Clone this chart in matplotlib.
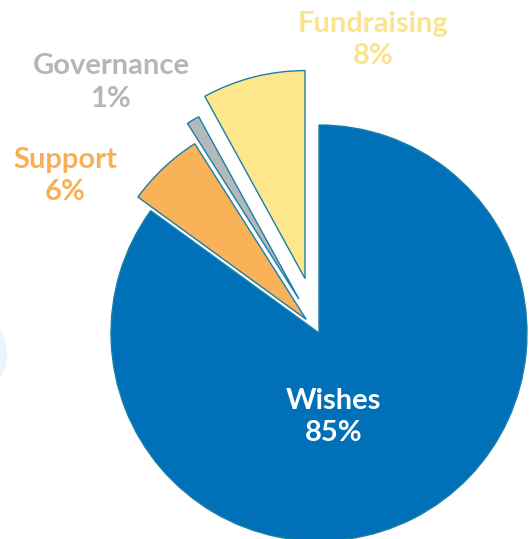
import matplotlib.pyplot as plt
from matplotlib.patches import Circle

categories = ['Wishes', 'Support', 'Governance', 'Fundraising']
shares = [85, 6, 1, 8]
explode = [0.0, 0.09, 0.19, 0.27]
colors = ['#0070b8', '#f9b257', '#b3b8b8', '#fde68c']
text_colors = ['#ffffff', '#f9b055', '#b5b7b7', '#fbe48e']
# label anchor points in data units (pie radius = 1)
label_xy = [(0.07, -0.405), (-1.22, 0.755), (-1.0, 1.205), (0.26, 1.41)]

plt.rcParams['font.family'] = ['Lato', 'DejaVu Sans']

fig = plt.figure(figsize=(5.31, 5.39), dpi=100)
ax = fig.add_axes([0, 0, 1, 1])

ax.pie(shares, explode=explode, colors=colors, startangle=90,
       counterclock=False, radius=1.0,
       wedgeprops=dict(edgecolor='#1a7fa8', linewidth=1.0))

# faint decorative disc at left edge
ax.add_patch(Circle((-1.73, -0.10), 0.23, facecolor='#eaf4fb',
                    edgecolor='none', zorder=0))

for name, val, (x, y), c in zip(categories, shares, label_xy, text_colors):
    ax.text(x, y, f'{name}\n{val}%', color=c, ha='center', va='center',
            fontsize=21, fontweight='bold', linespacing=1.3)

ax.set_xlim(-319 / 208, (531 - 319) / 208)
ax.set_ylim(-(539 - 333) / 208, 333 / 208)
ax.set_aspect('auto')
ax.axis('off')

fig.savefig('out.png', dpi=100)
